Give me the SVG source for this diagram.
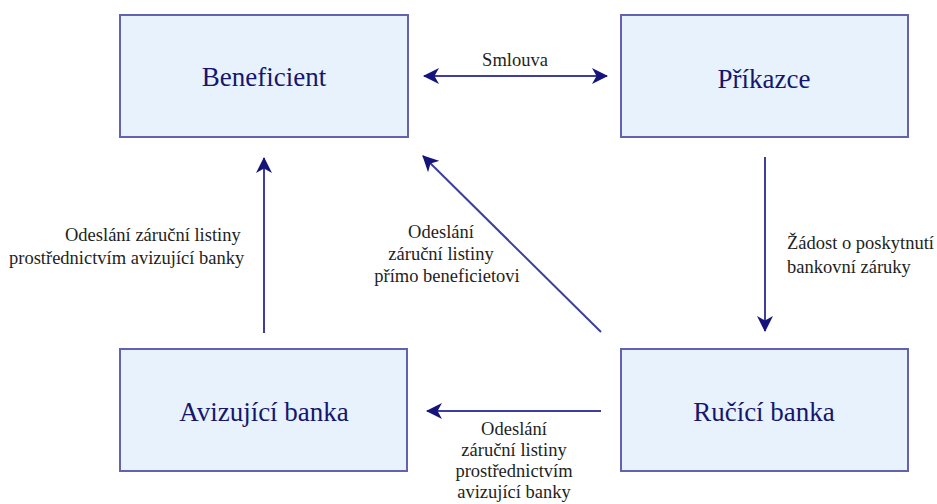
<svg xmlns="http://www.w3.org/2000/svg" width="937" height="504" viewBox="0 0 937 504">
  <defs>
    <marker id="head" markerUnits="userSpaceOnUse" markerWidth="16" markerHeight="16" refX="15" refY="8" orient="auto-start-reverse">
      <path d="M0,0 L16,8 L0,16 L4.5,8 Z" fill="#14147a"/>
    </marker>
    <style>
      .box { fill: #e8f2fd; stroke: #6262ae; stroke-width: 2; }
      .title { font-family: "Liberation Serif", "Times New Roman", serif; font-size: 27px; fill: #16166e; text-anchor: middle; }
      .edge { stroke: #3e3e9e; stroke-width: 2; fill: none; }
      .label { font-family: "Liberation Serif", "Times New Roman", serif; font-size: 18.5px; fill: #1e1e1e; }
      .mid { text-anchor: middle; }
    </style>
  </defs>
  <rect width="937" height="504" fill="#ffffff"/>

  <g id="beneficient">
    <rect class="box" x="120" y="15" width="288" height="122"/>
    <text class="title" x="264" y="86">Beneficient</text>
  </g>
  <g id="prikazce">
    <rect class="box" x="621" y="15" width="287" height="122"/>
    <text class="title" x="764" y="88">Příkazce</text>
  </g>
  <g id="avizujici-banka">
    <rect class="box" x="120" y="349" width="287" height="122"/>
    <text class="title" x="264" y="421">Avizující banka</text>
  </g>
  <g id="ruciti-banka">
    <rect class="box" x="621" y="349" width="287" height="122"/>
    <text class="title" x="764" y="421">Ručící banka</text>
  </g>

  <g id="connectors">
    <line class="edge" x1="424" y1="76" x2="607" y2="76" marker-start="url(#head)" marker-end="url(#head)"/>
    <line class="edge" x1="765" y1="157" x2="765" y2="331" marker-end="url(#head)"/>
    <line class="edge" x1="264" y1="333" x2="264" y2="158" marker-end="url(#head)"/>
    <line class="edge" x1="601" y1="332" x2="423" y2="156" marker-end="url(#head)"/>
    <line class="edge" x1="601" y1="411" x2="427" y2="411" marker-end="url(#head)"/>
  </g>

  <g id="labels">
    <text class="label mid" x="515" y="66">Smlouva</text>
    <text class="label" x="787" y="249">Žádost o poskytnutí</text>
    <text class="label" x="787" y="273">bankovní záruky</text>
    <text class="label" x="65" y="241">Odeslání záruční listiny</text>
    <text class="label" x="9" y="264">prostřednictvím avizující banky</text>
    <text class="label mid" x="441" y="238">Odeslání</text>
    <text class="label mid" x="441" y="260">záruční listiny</text>
    <text class="label mid" x="447" y="282">přímo beneficietovi</text>
    <text class="label mid" x="514" y="435">Odeslání</text>
    <text class="label mid" x="514" y="456">záruční listiny</text>
    <text class="label mid" x="514" y="477">prostřednictvím</text>
    <text class="label mid" x="514" y="498">avizující banky</text>
  </g>
</svg>
